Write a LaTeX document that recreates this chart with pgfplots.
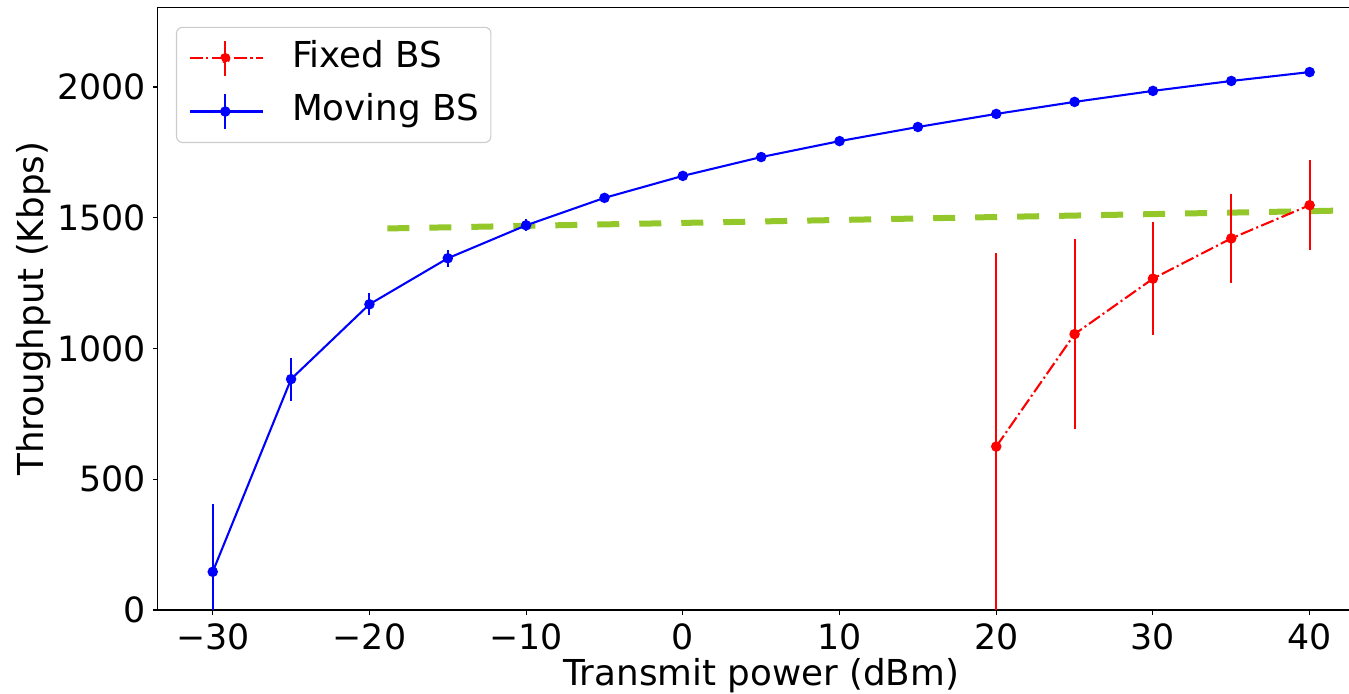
\documentclass[border=0pt]{standalone}
\usepackage{fontspec}
\setmainfont{DejaVu Sans}
\usepackage{pgfplots}
\pgfplotsset{compat=1.18}
\definecolor{ygreen}{RGB}{147,199,42}
\newcommand{\myfs}{\fontsize{17.4}{20.9}\selectfont}
\newcommand{\mylfs}{\fontsize{17.85}{21.4}\selectfont}
\begin{document}
\begin{tikzpicture}
\useasboundingbox (-78.95pt,-42pt) rectangle (595.55pt,305pt);
\begin{axis}[
  at={(0pt,0pt)}, anchor=south west,
  scale only axis,
  width=603.3pt, height=301.25pt,
  xmin=-33.5, xmax=43.5, ymin=0, ymax=2304,
  xtick={-30,-20,-10,0,10,20,30,40},
  xticklabels={−30,−20,−10,0,10,20,30,40},
  ytick={0,500,1000,1500,2000},
  yticklabels={0,500,1000,1500,2000},
  xtick pos=lower, ytick pos=left,
  tick align=outside,
  major tick length=2.43pt,
  tick style={line width=0.55pt, black},
  axis line style={line width=0.55pt, black},
  ticklabel style={font=\myfs},
  xticklabel style={anchor=base, inner sep=0pt, yshift=-17.5pt},
  yticklabel style={anchor=east, inner sep=0pt, xshift=-3.5pt},
  xlabel={Transmit power (dBm)},
  ylabel={Throughput (Kbps)},
  every axis x label/.style={at={(axis description cs:0.5,-0.1245)}, anchor=base, font=\mylfs, inner sep=0pt},
  every axis y label/.style={at={(axis description cs:-0.1027,0.5)}, anchor=center, rotate=90, font=\mylfs, inner sep=0pt},
  legend style={
    at={(axis description cs:0.015,0.968)}, anchor=north west,
    draw=black!20, line width=0.55pt, rounded corners=3pt,
    font=\mylfs, inner xsep=6pt, inner ysep=6.2pt,
    row sep=8.1pt,
    nodes={inner sep=0pt, text height=13.5pt, text depth=4.2pt},
    /tikz/every odd column/.append style={column sep=14pt},
  },
  legend cell align=left,
]
% green reference line
\addplot[ygreen, line width=3pt, dash pattern=on 11pt off 10pt, forget plot]
  coordinates {(-18.86,1459) (41.6,1527)};
% Fixed BS
\addplot[red, line width=1.04pt, dash pattern=on 6.67pt off 1.67pt on 1.04pt off 1.67pt,
  mark=*, mark size=2.08pt, mark options={solid},
  legend image code/.code={
    \draw[red, line width=1.04pt, dash pattern=on 6.67pt off 1.67pt on 1.04pt off 1.67pt] (0pt,0pt) -- (36.7pt,0pt);
    \draw[red, line width=1.04pt, solid] (17.85pt,-8.75pt) -- (17.85pt,8.75pt);
    \fill[red] (17.85pt,0pt) circle (2.08pt);
  },
  error bars/.cd, y dir=both, y explicit, error mark=none,
  error bar style={line width=1.04pt, solid, red}]
  coordinates {
    (20,625) +- (0,740)
    (25,1055) +- (0,363)
    (30,1267) +- (0,217)
    (35,1421) +- (0,169)
    (40,1548) +- (0,172)
  };
\addlegendentry{Fixed BS}
% Moving BS
\addplot[blue, line width=1.04pt,
  mark=*, mark size=2.08pt, mark options={solid},
  legend image code/.code={
    \draw[blue, line width=1.04pt] (0pt,0pt) -- (36.7pt,0pt);
    \draw[blue, line width=1.04pt] (17.85pt,-8.75pt) -- (17.85pt,8.75pt);
    \fill[blue] (17.85pt,0pt) circle (2.08pt);
  },
  error bars/.cd, y dir=both, y explicit, error mark=none,
  error bar style={line width=1.04pt, solid, blue}]
  coordinates {
    (-30,146) +- (0,259)
    (-25,883) +- (0,82)
    (-20,1169) +- (0,42)
    (-15,1345) +- (0,32)
    (-10,1471) +- (0,23)
    (-5,1576) +- (0,10)
    (0,1660) +- (0,6)
    (5,1732) +- (0,5)
    (10,1793) +- (0,5)
    (15,1847) +- (0,4)
    (20,1897) +- (0,4)
    (25,1943) +- (0,4)
    (30,1985) +- (0,4)
    (35,2023) +- (0,4)
    (40,2057) +- (0,4)
  };
\addlegendentry{Moving BS}
\end{axis}
\end{tikzpicture}
\end{document}
